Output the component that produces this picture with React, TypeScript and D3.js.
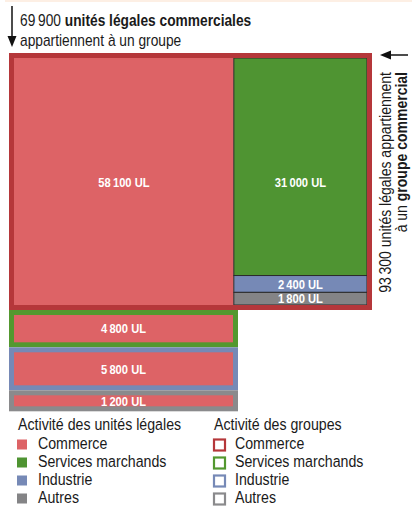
import * as d3 from 'd3';
import React, { useEffect, useRef } from 'react';

// activité des unités légales appartenant à un groupe commercial
const activitesUL = ['Commerce', 'Services marchands', 'Industrie', 'Autres'];
const ulGroupeCommercial = [58100, 31000, 2400, 1800];

// unités légales commerciales dans les groupes non commerciaux
const groupesNonCommerciaux = ['Services marchands', 'Industrie', 'Autres'];
const ulCommercialesAutresGroupes = [4800, 5800, 1200];

const couleurs = ['#dd6366', '#4f9432', '#7689b6', '#848486'];
const couleursGroupes = ['#b5373a', '#53982f', '#7689b6', '#8a8a8c'];

const totalCommerciales = '69\u202F900';
const totalGroupeCommercial = '93\u202F300';

// pas de police "narrow" dispo -> Liberation Sans compressée
const FONT = "'Liberation Sans', Arial, sans-serif";
const NARROW = 0.86;

function fmt(v: number) {
  return d3.format(',')(v).replace(/,/g, '\u202F') + ' UL';
}

function txt(parent: any, x: number, y: number, size: number) {
  return parent
    .append('text')
    .attr('transform', `translate(${x},${y}) scale(${NARROW},1)`)
    .attr('font-family', FONT)
    .attr('font-size', size)
    .attr('fill', '#1a1a1a');
}

export default function App() {
  const ref = useRef<SVGSVGElement>(null);

  useEffect(() => {
    const svg = d3.select(ref.current);
    svg.selectAll('*').remove();

    // bandeau clair en haut
    svg.append('rect').attr('x', 5).attr('y', 0).attr('width', 407).attr('height', 2).attr('fill', '#fdefe4');

    // ---- bloc du groupe commercial (treemap)
    const x0 = 14, y0 = 58, w = 353, h = 247;
    const root = d3
      .hierarchy<any>({
        children: [
          { name: activitesUL[0], i: 0, value: ulGroupeCommercial[0] },
          {
            name: 'reste',
            children: activitesUL.slice(1).map((n, k) => ({ name: n, i: k + 1, value: ulGroupeCommercial[k + 1] })),
          },
        ],
      })
      .sum((d: any) => d.value || 0);

    d3.treemap<any>().size([w, h]).tile(d3.treemapSliceDice)(root);

    const g = svg.append('g').attr('transform', `translate(${x0},${y0})`);
    const leaves = root.leaves() as any[];

    g.selectAll('rect.cell')
      .data(leaves)
      .enter()
      .append('rect')
      .attr('class', 'cell')
      .attr('x', (d) => d.x0)
      .attr('y', (d) => d.y0)
      .attr('width', (d) => d.x1 - d.x0)
      .attr('height', (d) => d.y1 - d.y0)
      .attr('fill', (d) => couleurs[d.data.i])
      .attr('stroke', (d) => (d.data.i === 0 ? 'none' : '#2b2b2b'))
      .attr('stroke-width', 1);

    leaves.forEach((d) => {
      // les grandes cases ont leur étiquette au milieu du bloc
      const ly = d.y1 - d.y0 > 100 ? h / 2 + 0.5 : (d.y0 + d.y1) / 2;
      txt(g, (d.x0 + d.x1) / 2, ly, 13)
        .attr('dy', '0.36em')
        .attr('text-anchor', 'middle')
        .attr('fill', 'white')
        .attr('font-weight', 'bold')
        .text(fmt(d.data.value));
    });

    // contour du groupe commercial
    svg.append('rect')
      .attr('x', 11.5).attr('y', 55.5)
      .attr('width', 358).attr('height', 252)
      .attr('fill', 'none')
      .attr('stroke', couleursGroupes[0])
      .attr('stroke-width', 5);

    // ---- UL commerciales dans les autres groupes
    const hy = d3.scaleLinear().domain([0, d3.max(ulCommercialesAutresGroupes)!]).range([0, 33]);
    let yy = 310;
    groupesNonCommerciaux.forEach((nom, k) => {
      const v = ulCommercialesAutresGroupes[k];
      const ih = Math.max(11, hy(v));
      svg.append('rect')
        .attr('x', 11.5).attr('y', yy + 2.5)
        .attr('width', 224).attr('height', ih + 5)
        .attr('fill', couleurs[0])
        .attr('stroke', couleursGroupes[k + 1])
        .attr('stroke-width', 5);
      txt(svg, 123.5, yy + 5 + ih / 2, 13)
        .attr('dy', '0.36em')
        .attr('text-anchor', 'middle')
        .attr('fill', 'white')
        .attr('font-weight', 'bold')
        .text(fmt(v));
      yy += ih + 10;
    });

    // ---- titre du haut + flèche
    svg.append('line').attr('x1', 12).attr('x2', 12).attr('y1', 6).attr('y2', 38)
      .attr('stroke', '#111').attr('stroke-width', 1.5);
    svg.append('path').attr('d', 'M7.5,36 L16.5,36 L12,47 Z').attr('fill', '#111');

    const t1 = txt(svg, 20, 26, 16);
    t1.append('tspan').text(totalCommerciales + ' ');
    t1.append('tspan').attr('font-weight', 'bold').text(' unités légales commerciales');
    txt(svg, 20, 46, 16).text('appartiennent à un groupe');

    // ---- texte vertical à droite + flèche
    svg.append('line').attr('x1', 387).attr('x2', 408).attr('y1', 55).attr('y2', 55)
      .attr('stroke', '#111').attr('stroke-width', 1.5);
    svg.append('path').attr('d', 'M380,55 L391,50.5 L391,59.5 Z').attr('fill', '#111');

    const rot = svg.append('g').attr('transform', 'translate(391,72) rotate(-90)');
    txt(rot, 0, 0, 16.3).attr('text-anchor', 'end')
      .text(totalGroupeCommercial + ' unités légales appartiennent');
    const r2 = txt(rot, 0, 16, 16.3).attr('text-anchor', 'end');
    r2.append('tspan').text('à un ');
    r2.append('tspan').attr('font-weight', 'bold').text('groupe commercial');

    // ---- légendes
    const legendes = [
      { titre: 'Activité des unités légales', x: 17, plein: true },
      { titre: 'Activité des groupes', x: 213, plein: false },
    ];
    legendes.forEach((lg) => {
      const gl = svg.append('g').attr('transform', `translate(${lg.x},0)`);
      txt(gl, 1, 430, 16.5).text(lg.titre);
      activitesUL.forEach((a, i) => {
        const yb = 449 + i * 18;
        if (lg.plein) {
          gl.append('rect').attr('x', 0).attr('y', yb - 9.5).attr('width', 10).attr('height', 10)
            .attr('fill', couleurs[i]);
        } else {
          gl.append('rect').attr('x', 1).attr('y', yb - 9.5).attr('width', 11).attr('height', 11)
            .attr('fill', 'white').attr('stroke', couleursGroupes[i]).attr('stroke-width', 2.2);
        }
        txt(gl, lg.plein ? 21 : 22, yb, 16.5).text(a);
      });
    });
  }, []);

  return (
    <>
      <style>{`body{margin:0}`}</style>
      <svg ref={ref} width={412} height={507} style={{ display: 'block', background: 'white' }} />
    </>
  );
}
